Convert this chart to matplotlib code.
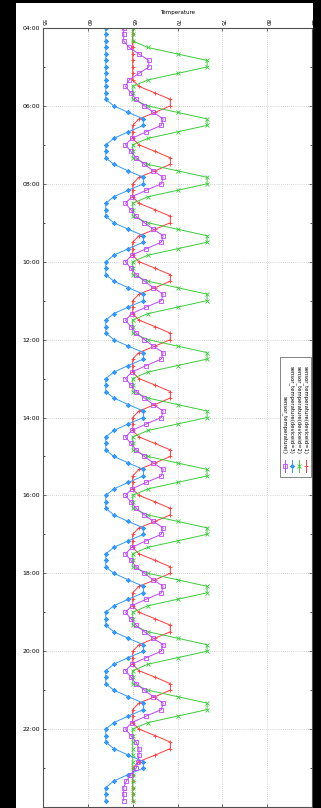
import numpy as np
import matplotlib
matplotlib.use("Agg")
import matplotlib.pyplot as plt
import matplotlib.dates as mdates
from matplotlib.lines import Line2D
from matplotlib.patches import Rectangle

# ---- data (10-minute samples from 04:00 to 23:50) ----
start = np.datetime64("2000-01-01T04:00")
times = start + np.arange(120) * np.timedelta64(10, "m")

temp_dev1 = [
    65, 65, 65, 65, 65, 65, 65, 65, 65,
    65.7, 67.5, 69.2, 69.2, 67.5, 65.7, 65, 65, 65,
    65.7, 67.5, 69.2, 69.2, 67.5, 65.7, 65, 65, 65,
    65.7, 67.5, 69.2, 69.2, 67.5, 65.7, 65, 65, 65,
    65.7, 67.5, 69.2, 69.2, 67.5, 65.7, 65, 65, 65,
    65.7, 67.5, 69.2, 69.2, 67.5, 65.7, 65, 65, 65,
    65.7, 67.5, 69.2, 69.2, 67.5, 65.7, 65, 65, 65,
    65.7, 67.5, 69.2, 69.2, 67.5, 65.7, 65, 65, 65,
    65.7, 67.5, 69.2, 69.2, 67.5, 65.7, 65, 65, 65,
    65.7, 67.5, 69.2, 69.2, 67.5, 65.7, 65, 65, 65,
    65.7, 67.5, 69.2, 69.2, 67.5, 65.7, 65, 65, 65,
    65.7, 67.5, 69.2, 69.2, 67.5, 65.7, 65, 65, 65,
    65.7, 67.5, 69.2, 69.2, 67.5, 65.7, 65, 65, 65,
    65, 65, 65,
]
temp_dev2 = [
    65, 65, 65, 66.7, 70, 73.3, 73.3, 70, 66.7,
    65, 65, 65, 66.7, 70, 73.3, 73.3, 70, 66.7,
    65, 65, 65, 66.7, 70, 73.3, 73.3, 70, 66.7,
    65, 65, 65, 66.7, 70, 73.3, 73.3, 70, 66.7,
    65, 65, 65, 66.7, 70, 73.3, 73.3, 70, 66.7,
    65, 65, 65, 66.7, 70, 73.3, 73.3, 70, 66.7,
    65, 65, 65, 66.7, 70, 73.3, 73.3, 70, 66.7,
    65, 65, 65, 66.7, 70, 73.3, 73.3, 70, 66.7,
    65, 65, 65, 66.7, 70, 73.3, 73.3, 70, 66.7,
    65, 65, 65, 66.7, 70, 73.3, 73.3, 70, 66.7,
    65, 65, 65, 66.7, 70, 73.3, 73.3, 70, 66.7,
    65, 65, 65, 66.7, 70, 73.3, 73.3, 70, 66.7,
    65, 65, 65, 65, 65, 65, 65, 65, 65,
    65, 65, 65,
]
temp_dev3 = [
    62, 62, 62, 62, 62, 62, 62, 62, 62,
    62, 62, 62, 62.9, 64.5, 66.2, 66.2, 64.5, 62.9,
    62, 62, 62, 62.9, 64.5, 66.2, 66.2, 64.5, 62.9,
    62, 62, 62, 62.9, 64.5, 66.2, 66.2, 64.5, 62.9,
    62, 62, 62, 62.9, 64.5, 66.2, 66.2, 64.5, 62.9,
    62, 62, 62, 62.9, 64.5, 66.2, 66.2, 64.5, 62.9,
    62, 62, 62, 62.9, 64.5, 66.2, 66.2, 64.5, 62.9,
    62, 62, 62, 62.9, 64.5, 66.2, 66.2, 64.5, 62.9,
    62, 62, 62, 62.9, 64.5, 66.2, 66.2, 64.5, 62.9,
    62, 62, 62, 62.9, 64.5, 66.2, 66.2, 64.5, 62.9,
    62, 62, 62, 62.9, 64.5, 66.2, 66.2, 64.5, 62.9,
    62, 62, 62, 62.9, 64.5, 66.2, 66.2, 64.5, 62.9,
    62, 62, 62, 62.9, 64.5, 66.2, 66.2, 64.5, 62.9,
    62, 62, 62,
]
temp_all = [
    64.0, 64.0, 64.0, 64.6, 65.7, 66.8, 66.8, 65.7, 64.6,
    64.2, 64.8, 65.4, 66.3, 67.3, 68.4, 68.2, 66.5, 64.9,
    64.2, 64.8, 65.4, 66.3, 67.3, 68.4, 68.2, 66.5, 64.9,
    64.2, 64.8, 65.4, 66.3, 67.3, 68.4, 68.2, 66.5, 64.9,
    64.2, 64.8, 65.4, 66.3, 67.3, 68.4, 68.2, 66.5, 64.9,
    64.2, 64.8, 65.4, 66.3, 67.3, 68.4, 68.2, 66.5, 64.9,
    64.2, 64.8, 65.4, 66.3, 67.3, 68.4, 68.2, 66.5, 64.9,
    64.2, 64.8, 65.4, 66.3, 67.3, 68.4, 68.2, 66.5, 64.9,
    64.2, 64.8, 65.4, 66.3, 67.3, 68.4, 68.2, 66.5, 64.9,
    64.2, 64.8, 65.4, 66.3, 67.3, 68.4, 68.2, 66.5, 64.9,
    64.2, 64.8, 65.4, 66.3, 67.3, 68.4, 68.2, 66.5, 64.9,
    64.2, 64.8, 65.4, 66.3, 67.3, 68.4, 68.2, 66.5, 64.9,
    64.2, 64.8, 65.4, 65.7, 65.7, 65.6, 65.4, 64.8, 64.3,
    64.0, 64.0, 64.0,
]

labels = ["sensor_temperature(deviceid=1)", "sensor_temperature(deviceid=2)",
          "sensor_temperature(deviceid=3)", "sensor_temperature()"]
x_ticks = [55, 60, 65, 70, 75, 80, 85]

# ---- styles ----
colors = ["#ff3b3b", "#3ccc3c", "#3399ff", "#c044ff"]
markers = ["+", "x", (8, 2, 0), "s"]

W, H = 321, 808
fig = plt.figure(figsize=(W / 100, H / 100), dpi=100, facecolor="black")


def fx(x):
    return x / W


def fy(y):
    return 1 - y / H


fig.add_artist(Rectangle((fx(16), fy(808)), fx(313) - fx(16), fy(3) - fy(808),
                         transform=fig.transFigure, facecolor="white",
                         edgecolor="none", zorder=0))

ax = fig.add_axes([fx(43), fy(807), fx(312) - fx(43), fy(28) - fy(807)])
ax.set_facecolor("white")

series = [temp_dev1, temp_dev2, temp_dev3, temp_all]
for vals, c, m in zip(series, colors, markers):
    face = "none" if m == "s" else c
    ax.plot(vals, times, color=c, lw=0.7, marker=m, ms=3.2,
            mew=0.6, mfc=face, mec=c)

ax.set_xlim(55, 85)
ax.set_ylim(np.datetime64("2000-01-02T00:00"), np.datetime64("2000-01-01T04:00"))
ax.set_xticks(x_ticks)
ax.xaxis.tick_top()
ax.xaxis.set_label_position("top")
ax.set_xlabel("Temperature", fontsize=4, labelpad=3.2)

ax.yaxis.set_major_locator(mdates.HourLocator(byhour=range(4, 23, 2)))
ax.yaxis.set_minor_locator(mdates.HourLocator(byhour=range(5, 24, 2)))
ax.yaxis.set_major_formatter(mdates.DateFormatter("%H:%M"))

ax.tick_params(axis="x", which="both", direction="in", top=True, bottom=True,
               labeltop=True, labelbottom=False, labelsize=4,
               labelrotation=-90, length=2.2, width=0.5, pad=1.5, colors="#333333")
ax.tick_params(axis="y", which="major", direction="in", left=True, right=True,
               labelsize=4.4, length=2.2, width=0.5, pad=2, colors="#333333")
ax.tick_params(axis="y", which="minor", direction="in", left=True, right=True,
               length=1.5, width=0.5)
for lab in ax.get_xticklabels():
    lab.set_color("black")
for lab in ax.get_yticklabels():
    lab.set_color("black")

ax.grid(True, which="major", color="#b0b0b0", lw=0.5, ls=(0, (1, 2)))
for s in ax.spines.values():
    s.set_color("#505050")
    s.set_linewidth(0.8)

# ---- rotated legend ----
fig.add_artist(Rectangle((fx(280), fy(477)), fx(311) - fx(280), fy(357) - fy(477),
                         transform=fig.transFigure, facecolor="white",
                         edgecolor="#707070", lw=0.6, zorder=5))
col_x = [305.5, 298.5, 291.5, 284.5]
for lab, c, m, xc in zip(labels, colors, markers, col_x):
    fig.text(fx(xc), fy(454), lab, rotation=-90, ha="center", va="bottom",
             fontsize=3.8, zorder=6)
    face = "none" if m == "s" else c
    fig.add_artist(Line2D([fx(xc), fx(xc)], [fy(460), fy(472)],
                          transform=fig.transFigure, color=c, lw=0.7, zorder=6))
    fig.add_artist(Line2D([fx(xc)], [fy(466)], transform=fig.transFigure,
                          color=c, marker=m, ms=3.2, mew=0.6, mfc=face, mec=c,
                          zorder=7))

fig.savefig("out.png", dpi=100, facecolor="black")
